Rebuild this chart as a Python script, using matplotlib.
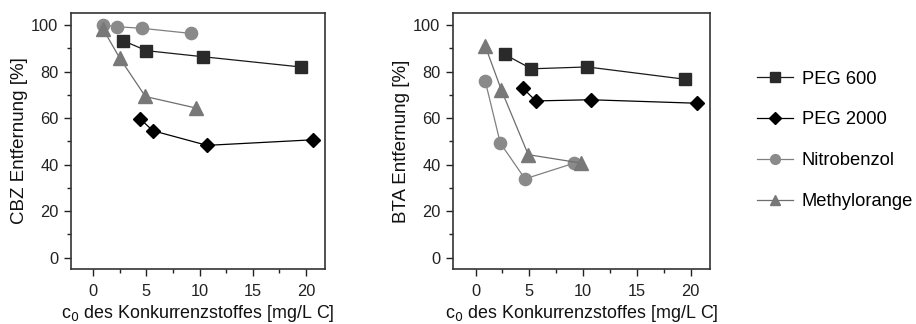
import matplotlib
matplotlib.use("Agg")
import matplotlib.pyplot as plt
from matplotlib.ticker import MultipleLocator

plt.rcParams['font.family'] = ['Liberation Sans', 'DejaVu Sans']

series_names = ["PEG 600", "PEG 2000", "Nitrobenzol", "Methylorange"]

# CBZ panel
cbz_peg600_x = [2.8, 5.0, 10.3, 19.5]
cbz_peg600_y = [93.3, 89.0, 86.4, 82.0]
cbz_peg2000_x = [4.4, 5.6, 10.7, 20.7]
cbz_peg2000_y = [59.7, 54.6, 48.3, 50.7]
cbz_nitro_x = [0.9, 2.2, 4.6, 9.2]
cbz_nitro_y = [100.0, 99.3, 98.6, 96.4]
cbz_methyl_x = [0.9, 2.5, 4.9, 9.7]
cbz_methyl_y = [98.4, 85.7, 69.3, 64.3]

# BTA panel
bta_peg600_x = [2.7, 5.2, 10.4, 19.5]
bta_peg600_y = [87.4, 81.2, 82.0, 76.7]
bta_peg2000_x = [4.4, 5.6, 10.7, 20.6]
bta_peg2000_y = [72.9, 67.4, 67.9, 66.4]
bta_nitro_x = [0.9, 2.3, 4.6, 9.2]
bta_nitro_y = [76.0, 49.3, 33.9, 40.7]
bta_methyl_x = [0.9, 2.4, 4.9, 9.8]
bta_methyl_y = [91.0, 72.1, 44.3, 40.7]

x_ticks = [0, 5, 10, 15, 20]
y_ticks = [0, 20, 40, 60, 80, 100]
xlabel = "c$_0$ des Konkurrenzstoffes [mg/L C]"
ylabels = ["CBZ Entfernung [%]", "BTA Entfernung [%]"]

styles = [
    dict(marker='s', color='#1a1a1a', mfc='#2a2a2a', mec='#2a2a2a', ms=8.5),
    dict(marker='D', color='#000000', mfc='#000000', mec='#000000', ms=7.6),
    dict(marker='o', color='#808080', mfc='#8a8a8a', mec='#8a8a8a', ms=8.8),
    dict(marker='^', color='#6e6e6e', mfc='#787878', mec='#787878', ms=9.5),
]

fig = plt.figure(figsize=(9.16, 3.24), dpi=100)
ax1 = fig.add_axes([0.0775, 0.170, 0.2773, 0.790])
ax2 = fig.add_axes([0.4945, 0.170, 0.2806, 0.790])

panels = [
    (ax1, [(cbz_peg600_x, cbz_peg600_y), (cbz_peg2000_x, cbz_peg2000_y),
           (cbz_nitro_x, cbz_nitro_y), (cbz_methyl_x, cbz_methyl_y)], ylabels[0]),
    (ax2, [(bta_peg600_x, bta_peg600_y), (bta_peg2000_x, bta_peg2000_y),
           (bta_nitro_x, bta_nitro_y), (bta_methyl_x, bta_methyl_y)], ylabels[1]),
]

handles = []
for ax, data, yl in panels:
    hs = []
    for (xs, ys), st, name in zip(data, styles, series_names):
        h, = ax.plot(xs, ys, lw=0.9, label=name, **st)
        hs.append(h)
    handles = hs
    ax.set_xlim(-2.1, 21.8)
    ax.set_ylim(-4.8, 105.2)
    ax.set_xticks(x_ticks)
    ax.set_yticks(y_ticks)
    ax.xaxis.set_minor_locator(MultipleLocator(2.5))
    ax.yaxis.set_minor_locator(MultipleLocator(10))
    ax.tick_params(which='major', direction='out', length=5, width=1.0,
                   labelsize=11.8, colors='#222222')
    ax.tick_params(axis='x', which='major', pad=6)
    ax.tick_params(axis='y', which='major', pad=4)
    ax.tick_params(which='minor', direction='out', length=3, width=1.0, colors='#222222')
    for sp in ax.spines.values():
        sp.set_linewidth(1.2)
        sp.set_color('#333333')
    ax.set_xlabel(xlabel, fontsize=12.9, color='#111111', labelpad=3)
    ax.set_ylabel(yl, fontsize=13.5, color='#111111', labelpad=2)

fig.legend(handles, series_names, loc='upper left', bbox_to_anchor=(0.818, 0.805),
           frameon=False, fontsize=13.2, handlelength=2.0, handletextpad=0.45,
           labelspacing=1.3, borderaxespad=0, markerscale=0.8)

fig.savefig("out.png", dpi=100)
